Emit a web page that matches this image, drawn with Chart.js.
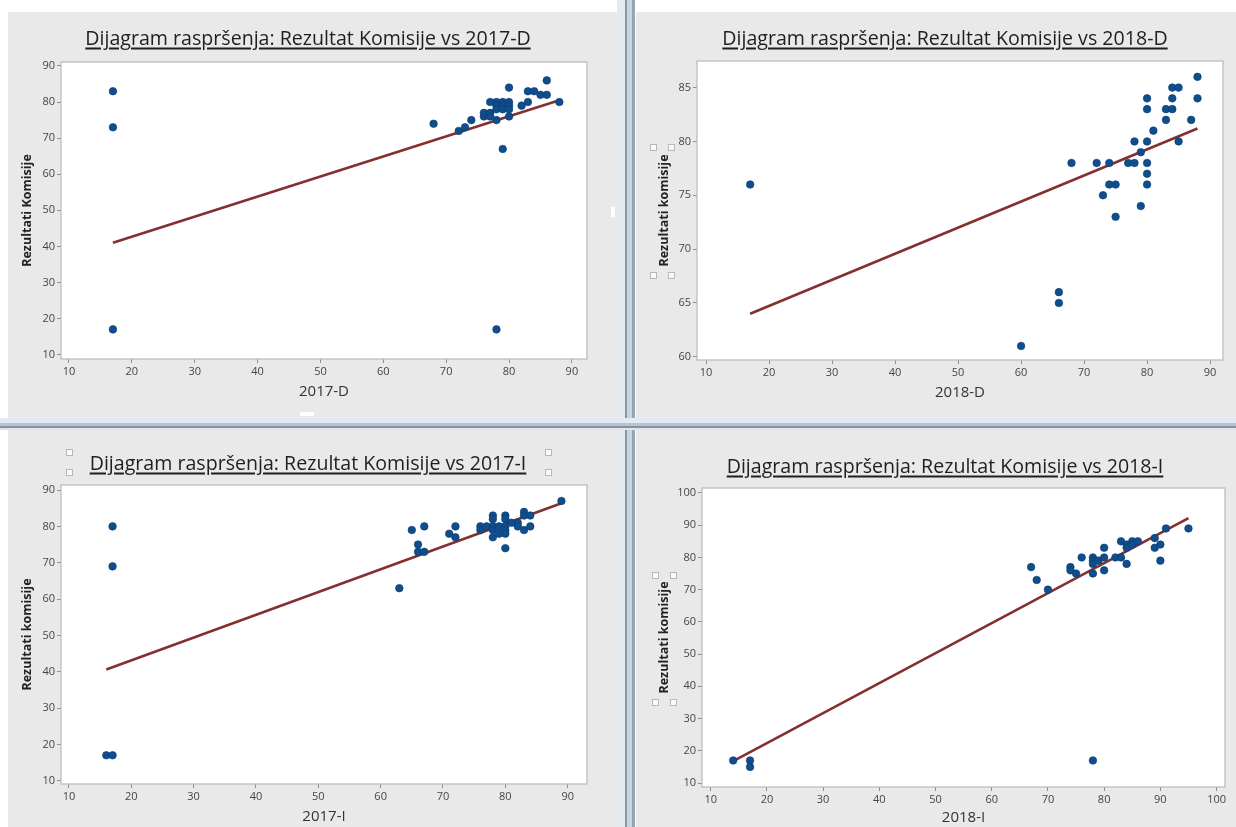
<!DOCTYPE html>
<html>
<head>
<meta charset="utf-8">
<script src="https://cdn.jsdelivr.net/npm/chart.js@4.4.1/dist/chart.umd.min.js"></script>
<style>
  html, body { margin: 0; padding: 0; background: #fff; }
  #board { position: relative; width: 1236px; height: 827px; overflow: hidden; background: #fff; }
  .panel { position: absolute; background: #e9e9e9; }
  .panel canvas { position: absolute; left: 0; top: 0; }
  .title {
    position: absolute; transform: translate(-50%, -50%); white-space: nowrap;
    font-family: "Open Sans", sans-serif; font-size: 19.6px; color: #1f1f1f;
    text-decoration: underline; text-underline-offset: 3px; text-decoration-thickness: 1.6px;
  }
  .bar { position: absolute; }
  .handle { position: absolute; width: 5px; height: 5px; background: #fafafa; border: 1px solid #b8b8b8; }
</style>
</head>
<body>
<div id="board"></div>
<script>
// Dijagram 1: Rezultat Komisije vs 2017-D
const x2017D = [17, 17, 17, 78, 68, 72, 73, 74, 76, 76, 77, 77, 77, 78, 78, 78, 78, 79, 79, 79, 79, 80, 80, 80, 80, 80, 82, 83, 83, 84, 85, 86, 86, 88];
const y2017D = [83, 73, 17, 17, 74, 72, 73, 75, 76, 77, 77, 80, 76, 80, 79, 78, 75, 80, 79, 78, 67, 80, 79, 78, 76, 84, 79, 80, 83, 83, 82, 86, 82, 80];
const fitX2017D = [17, 88];
const fitY2017D = [41, 80.5];

// Dijagram 2: Rezultat Komisije vs 2018-D
const x2018D = [17, 60, 66, 66, 68, 72, 73, 74, 74, 75, 75, 77, 78, 78, 79, 79, 80, 80, 80, 80, 80, 80, 81, 83, 83, 84, 84, 84, 85, 85, 87, 88, 88];
const y2018D = [76, 61, 66, 65, 78, 78, 75, 78, 76, 76, 73, 78, 80, 78, 79, 74, 84, 83, 80, 78, 77, 76, 81, 83, 82, 85, 84, 83, 85, 80, 82, 86, 84];
const fitX2018D = [17, 88];
const fitY2018D = [64, 81.2];

// Dijagram 3: Rezultat Komisije vs 2017-I
const x2017I = [16, 17, 17, 17, 63, 65, 66, 66, 67, 67, 71, 72, 72, 76, 76, 77, 78, 78, 78, 78, 78, 79, 79, 80, 80, 80, 80, 80, 80, 81, 82, 82, 83, 83, 83, 84, 84, 89];
const y2017I = [17, 17, 80, 69, 63, 79, 75, 73, 80, 73, 78, 80, 77, 80, 79, 80, 83, 82, 80, 79, 77, 80, 78, 83, 82, 80, 79, 78, 74, 81, 81, 80, 84, 83, 79, 83, 80, 87];
const fitX2017I = [16, 89];
const fitY2017I = [40.6, 86.4];

// Dijagram 4: Rezultat Komisije vs 2018-I
const x2018I = [14, 17, 17, 78, 67, 68, 70, 74, 74, 75, 76, 78, 78, 78, 78, 79, 80, 80, 80, 82, 83, 83, 84, 84, 84, 85, 85, 86, 89, 89, 90, 90, 91, 95];
const y2018I = [17, 17, 15, 17, 77, 73, 70, 77, 76, 75, 80, 80, 79, 78, 75, 79, 83, 80, 76, 80, 85, 80, 84, 83, 78, 85, 84, 85, 86, 83, 84, 79, 89, 89];
const fitX2018I = [14, 95];
const fitY2018I = [16.8, 92.2];

// oznake na osima
const ticks10to90 = [10, 20, 30, 40, 50, 60, 70, 80, 90];
const ticks10to100 = [10, 20, 30, 40, 50, 60, 70, 80, 90, 100];
const ticks60to85 = [60, 65, 70, 75, 80, 85];

const FONT = '"Open Sans", sans-serif';

// raspored panela (koordinate stranice)
const panels = [
  {
    title: 'Dijagram raspršenja: Rezultat Komisije vs 2017-D', titleX: 308, titleY: 37,
    box: { x: 8, y: 12, w: 609, h: 406 }, plot: { l: 61, t: 62, r: 587, b: 359 },
    xMin: 8.74, xMax: 92.4, yMin: 8.8, yMax: 91.1,
    xs: x2017D, ys: y2017D, fitX: fitX2017D, fitY: fitY2017D,
    xTicks: ticks10to90, yTicks: ticks10to90,
    xLabel: '2017-D', yLabel: 'Rezultati Komisije', yLabelX: 27, xLabelY: 392
  },
  {
    title: 'Dijagram raspršenja: Rezultat Komisije vs 2018-D', titleX: 945, titleY: 37,
    box: { x: 636, y: 12, w: 600, h: 406 }, plot: { l: 697, t: 61, r: 1223, b: 360 },
    xMin: 8.56, xMax: 92.05, yMin: 59.7, yMax: 87.47,
    xs: x2018D, ys: y2018D, fitX: fitX2018D, fitY: fitY2018D,
    xTicks: ticks10to90, yTicks: ticks60to85,
    xLabel: '2018-D', yLabel: 'Rezultati komisije', yLabelX: 664, xLabelY: 393
  },
  {
    title: 'Dijagram raspršenja: Rezultat Komisije vs 2017-I', titleX: 308, titleY: 462,
    box: { x: 8, y: 430, w: 609, h: 397 }, plot: { l: 61, t: 485, r: 587, b: 784 },
    xMin: 8.73, xMax: 93.1, yMin: 9.1, yMax: 91.4,
    xs: x2017I, ys: y2017I, fitX: fitX2017I, fitY: fitY2017I,
    xTicks: ticks10to90, yTicks: ticks10to90,
    xLabel: '2017-I', yLabel: 'Rezultati komisije', yLabelX: 27, xLabelY: 817
  },
  {
    title: 'Dijagram raspršenja: Rezultat Komisije vs 2018-I', titleX: 945, titleY: 465,
    box: { x: 636, y: 430, w: 600, h: 397 }, plot: { l: 702, t: 488, r: 1225, b: 787 },
    xMin: 8.45, xMax: 101.5, yMin: 8.76, yMax: 101.55,
    xs: x2018I, ys: y2018I, fitX: fitX2018I, fitY: fitY2018I,
    xTicks: ticks10to100, yTicks: ticks10to100,
    xLabel: '2018-I', yLabel: 'Rezultati komisije', yLabelX: 664, xLabelY: 818
  }
];

// bijela površina grafa i sivi okvir
const plotFrame = {
  id: 'plotFrame',
  beforeDraw(chart) {
    const { ctx, chartArea: a } = chart;
    ctx.save();
    ctx.fillStyle = '#ffffff';
    ctx.fillRect(a.left, a.top, a.right - a.left, a.bottom - a.top);
    ctx.restore();
  },
  afterDraw(chart) {
    const { ctx, chartArea: a } = chart;
    ctx.save();
    ctx.strokeStyle = '#b9b9b9';
    ctx.lineWidth = 1.2;
    ctx.strokeRect(a.left, a.top, a.right - a.left, a.bottom - a.top);
    ctx.restore();
  }
};

const board = document.getElementById('board');

function addDiv(cls, x, y, w, h, bg) {
  const d = document.createElement('div');
  d.className = cls;
  d.style.left = x + 'px';
  d.style.top = y + 'px';
  if (w != null) d.style.width = w + 'px';
  if (h != null) d.style.height = h + 'px';
  if (bg) d.style.background = bg;
  board.appendChild(d);
  return d;
}

function createPanel(p) {
  const b = p.box;
  const panel = addDiv('panel', b.x, b.y, b.w, b.h);
  const canvas = document.createElement('canvas');
  canvas.width = b.w;
  canvas.height = b.h;
  canvas.style.width = b.w + 'px';
  canvas.style.height = b.h + 'px';
  panel.appendChild(canvas);

  const yTitleSize = 12.5, xTitleSize = 15;
  const yAxisW = p.plot.l - b.x;
  const xAxisH = b.y + b.h - p.plot.b;
  const yTitlePad = (p.yLabelX - b.x) - yTitleSize * 1.2 / 2;
  const xTitlePad = Math.max(0, (b.y + b.h - p.xLabelY) - xTitleSize * 1.2 / 2);

  const points = p.xs.map((x, i) => ({ x: x, y: p.ys[i] }));
  const fit = p.fitX.map((x, i) => ({ x: x, y: p.fitY[i] }));

  const tickGrid = { display: true, drawOnChartArea: false, drawTicks: true, tickLength: 4, color: '#8f8f8f' };
  const tickFont = { family: FONT, size: 11 };

  new Chart(canvas, {
    type: 'scatter',
    data: {
      datasets: [
        {
          data: points,
          backgroundColor: '#0f4d8c',
          borderColor: '#0a3c72',
          borderWidth: 0.6,
          pointRadius: 3.8,
          order: 1
        },
        {
          type: 'line',
          data: fit,
          showLine: true,
          borderColor: '#83302f',
          borderWidth: 2.6,
          pointRadius: 0,
          fill: false,
          order: 2
        }
      ]
    },
    options: {
      responsive: false,
      animation: false,
      devicePixelRatio: 1,
      layout: { padding: { left: 0, top: p.plot.t - b.y, right: b.x + b.w - p.plot.r, bottom: 0 } },
      plugins: { legend: { display: false }, tooltip: { enabled: false } },
      scales: {
        x: {
          type: 'linear',
          min: p.xMin,
          max: p.xMax,
          afterBuildTicks: s => { s.ticks = p.xTicks.map(v => ({ value: v })); },
          afterFit: s => { s.height = xAxisH; s.paddingLeft = 0; s.paddingRight = 0; },
          grid: tickGrid,
          border: { display: false },
          ticks: { font: tickFont, color: '#454545', padding: 2, maxRotation: 0, autoSkip: false },
          title: { display: true, text: p.xLabel, color: '#333', font: { family: FONT, size: xTitleSize }, padding: { top: 0, bottom: xTitlePad } }
        },
        y: {
          type: 'linear',
          min: p.yMin,
          max: p.yMax,
          afterBuildTicks: s => { s.ticks = p.yTicks.map(v => ({ value: v })); },
          afterFit: s => { s.width = yAxisW; s.paddingTop = 0; s.paddingBottom = 0; },
          grid: tickGrid,
          border: { display: false },
          ticks: { font: tickFont, color: '#454545', padding: 2, autoSkip: false },
          title: { display: true, text: p.yLabel, color: '#222', font: { family: FONT, size: yTitleSize, weight: 'bold' }, padding: { top: yTitlePad, bottom: 0 } }
        }
      }
    },
    plugins: [plotFrame]
  });

  const t = addDiv('title', p.titleX, p.titleY);
  t.textContent = p.title;
}

panels.forEach(createPanel);

// razdjelnici između panela
addDiv('bar', 617, 0, 8, 827, '#e3eaf1');
addDiv('bar', 625, 0, 2, 827, '#8d949c');
addDiv('bar', 627, 0, 5, 827, '#c6d5e6');
addDiv('bar', 632, 0, 3, 827, '#9aa4ae');
addDiv('bar', 0, 418, 1236, 5, '#e2e9f0');
addDiv('bar', 0, 423, 1236, 3, '#b3c5d8');
addDiv('bar', 0, 426, 1236, 2, '#8a939c');
addDiv('bar', 0, 428, 1236, 2, '#dde5ee');

// ručke odabira (Minitab)
[[650, 144], [668, 144], [650, 272], [668, 272],
 [66, 449], [66, 469], [545, 449], [545, 469],
 [652, 572], [670, 572], [652, 699], [670, 699]].forEach(h => addDiv('handle', h[0], h[1]));
addDiv('bar', 611, 207, 4, 10, '#ffffff');
addDiv('bar', 300, 412, 14, 4, '#ffffff');
</script>
</body>
</html>
